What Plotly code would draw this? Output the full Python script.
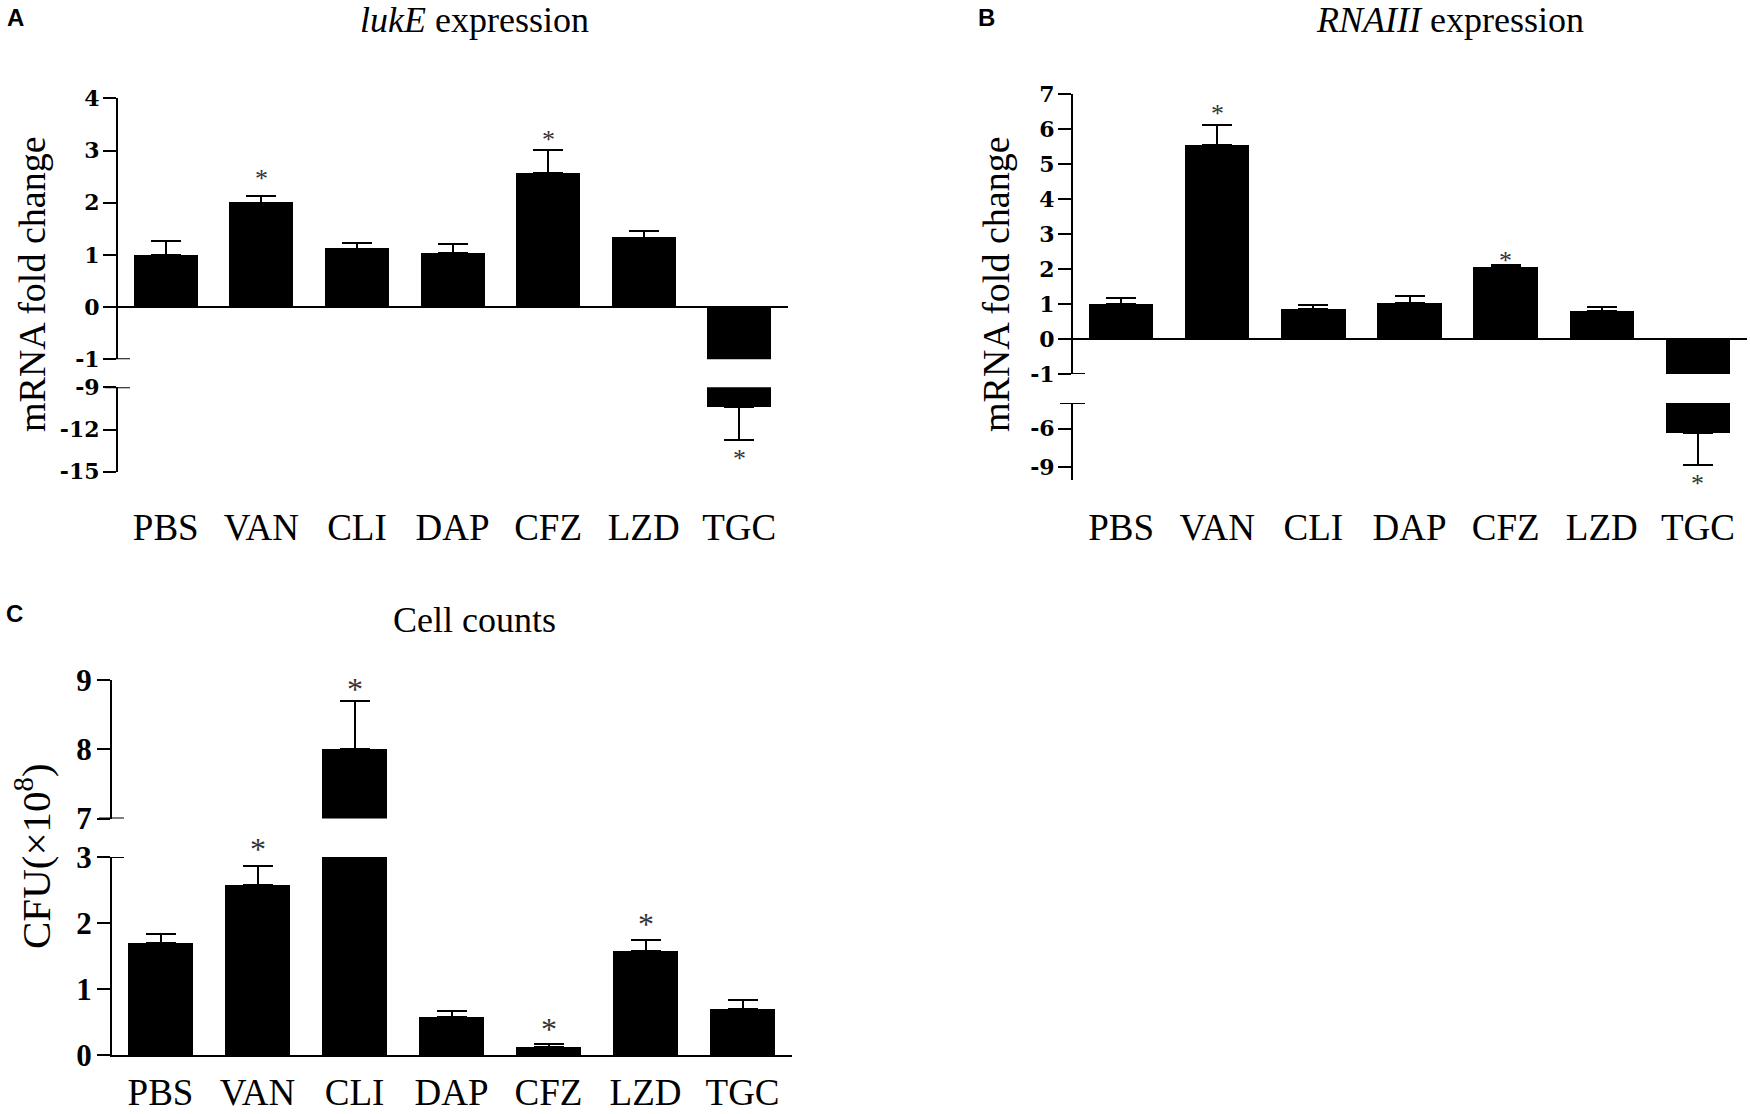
import plotly.graph_objects as go

categories = ["PBS", "VAN", "CLI", "DAP", "CFZ", "LZD", "TGC"]

# A: lukE mRNA fold change
luke_mean = [1.0, 2.0, 1.12, 1.04, 2.57, 1.33, -10.42]
luke_err = [0.27, 0.12, 0.11, 0.17, 0.44, 0.12, 2.33]
luke_star_cats = ["VAN", "CFZ", "TGC"]
luke_star_y = [2.56, 3.3, -13.7]

# B: RNAIII mRNA fold change
rna_mean = [1.0, 5.54, 0.86, 1.03, 2.06, 0.8, -6.3]
rna_err = [0.17, 0.57, 0.11, 0.2, 0.05, 0.11, 2.55]
rna_star_cats = ["VAN", "CFZ", "TGC"]
rna_star_y = [6.6, 2.4, -9.85]

# C: cell counts, CFU x10^8
cfu_mean = [1.7, 2.58, 8.0, 0.58, 0.12, 1.58, 0.69]
cfu_err = [0.13, 0.29, 0.7, 0.09, 0.04, 0.16, 0.14]
cfu_star_cats = ["VAN", "CLI", "CFZ", "LZD"]
cfu_star_y = [3.21, 8.95, 0.49, 2.08]

W, H = 1750, 1114
SERIF = "Liberation Serif"
SANS = "Liberation Sans"


def fx(px):
    return px / W


def fy(py):
    return 1 - py / H


fig = go.Figure()
layout = {}
annotations = []


def add_panel(n, means, errs, star_cats, star_y, x_px, up_px, low_px, up_rng, low_rng,
              up_ticks, low_ticks, tick_font, star_size, standoff, base_line):
    sfx = "" if n == 1 else str(n)
    xa = "x" + sfx
    yu = "y" if n == 1 else "y" + str(2 * n - 1)
    yl = "y" + str(2 * n)
    plus = [e if m > 0 else 0 for m, e in zip(means, errs)]
    minus = [e if m < 0 else 0 for m, e in zip(means, errs)]

    # same bars drawn on both halves of the broken axis
    for ya in (yu, yl):
        fig.add_trace(go.Bar(
            x=categories, y=means, xaxis=xa, yaxis=ya, width=0.67,
            marker=dict(color="black", line=dict(width=0)),
            error_y=dict(type="data", symmetric=False, array=plus, arrayminus=minus,
                         color="black", thickness=2, width=15),
            showlegend=False, hoverinfo="skip",
        ))

    # significance stars, placed on whichever half they belong to
    for c, v in zip(star_cats, star_y):
        ya, rng = (yu, up_rng) if v >= up_rng[0] else (yl, low_rng)
        annotations.append(dict(
            text="*", x=c, xref=xa, y=(v - rng[0]) / (rng[1] - rng[0]), yref=ya + " domain",
            showarrow=False, xanchor="center", yanchor="middle",
            yshift=-round(0.18 * star_size),
            font=dict(family=SERIF, size=star_size, color="#333"),
        ))

    layout["xaxis" + sfx] = dict(
        domain=[fx(x_px[0]), fx(x_px[1])], range=[-0.5, 6.51], anchor=yl,
        showline=base_line, linecolor="black", linewidth=2, ticks="",
        showgrid=False, zeroline=False, ticklabelstandoff=standoff,
        tickfont=dict(family=SERIF, size=37, color="black"),
    )
    yaxis_common = dict(
        anchor=xa, showline=True, linecolor="black", linewidth=2,
        ticks="outside", ticklen=13, tickwidth=2, tickcolor="black",
        tickmode="array", showgrid=False, tickfont=tick_font,
        ticklabelstandoff=-1,
    )
    layout["yaxis" + ("" if n == 1 else str(2 * n - 1))] = dict(
        yaxis_common, domain=[fy(up_px[1]), fy(up_px[0])], range=up_rng,
        tickvals=up_ticks, ticktext=[str(t) for t in up_ticks],
        zeroline=not base_line, zerolinecolor="black", zerolinewidth=2,
    )
    layout["yaxis" + str(2 * n)] = dict(
        yaxis_common, domain=[fy(low_px[1]), fy(low_px[0])], range=low_rng,
        tickvals=low_ticks, ticktext=[str(t) for t in low_ticks], zeroline=False,
    )

    # break marks crossing the axis at both ends of the cut
    w = x_px[1] - x_px[0]
    for ya, val in ((yu, up_rng[0]), (yl, low_rng[1])):
        fig.add_shape(type="line", xref=xa + " domain", yref=ya, x0=-13 / w, x1=12 / w,
                      y0=val, y1=val, line=dict(color="black", width=2))


wide_bold = dict(family="DejaVu Serif", size=22, color="black", weight="bold")

add_panel(1, luke_mean, luke_err, luke_star_cats, luke_star_y,
          x_px=(118, 788), up_px=(98.3, 359.3), low_px=(387.3, 471.7),
          up_rng=[-1, 4], low_rng=[-15, -9],
          up_ticks=[-1, 0, 1, 2, 3, 4], low_ticks=[-15, -12, -9],
          tick_font=wide_bold, star_size=26, standoff=30, base_line=False)

add_panel(2, rna_mean, rna_err, rna_star_cats, rna_star_y,
          x_px=(1073, 1747), up_px=(94.3, 374), low_px=(403, 480),
          up_rng=[-1, 7], low_rng=[-10, -4],
          up_ticks=[-1, 0, 1, 2, 3, 4, 5, 6, 7], low_ticks=[-9, -6],
          tick_font=wide_bold, star_size=26, standoff=22, base_line=False)

add_panel(3, cfu_mean, cfu_err, cfu_star_cats, cfu_star_y,
          x_px=(112, 792), up_px=(680, 818.5), low_px=(857, 1055),
          up_rng=[7, 9], low_rng=[0, 3],
          up_ticks=[7, 8, 9], low_ticks=[0, 1, 2, 3],
          tick_font=dict(family=SERIF, size=31, color="black", weight="bold"),
          star_size=32, standoff=4, base_line=True)


def note(text, px, py, size, family=SERIF, angle=0):
    annotations.append(dict(
        text=text, x=fx(px), y=fy(py), xref="paper", yref="paper",
        showarrow=False, textangle=angle, xanchor="center", yanchor="middle",
        font=dict(family=family, size=size, color="black"),
    ))


note("<i>lukE</i> expression", 474, 20, 36)
note("<i>RNAIII</i> expression", 1450, 20, 36)
note("Cell counts", 474, 620, 36)
note("mRNA fold change", 32, 284, 38, angle=-90)
note("mRNA fold change", 996, 284, 38, angle=-90)
note("CFU(×10<sup>8</sup>)", 33, 856, 41, angle=-90)
note("<b>A</b>", 15, 18, 24, family=SANS)
note("<b>B</b>", 987, 18, 24, family=SANS)
note("<b>C</b>", 14, 613, 24, family=SANS)

fig.update_layout(
    width=W, height=H, autosize=False,
    margin=dict(l=0, r=0, t=0, b=0, autoexpand=False),
    paper_bgcolor="white", plot_bgcolor="white",
    bargap=0, showlegend=False,
    annotations=annotations,
    **layout,
)

fig.write_html("out.html", config={"displayModeBar": False},
               post_script="document.body.style.margin='0';")
